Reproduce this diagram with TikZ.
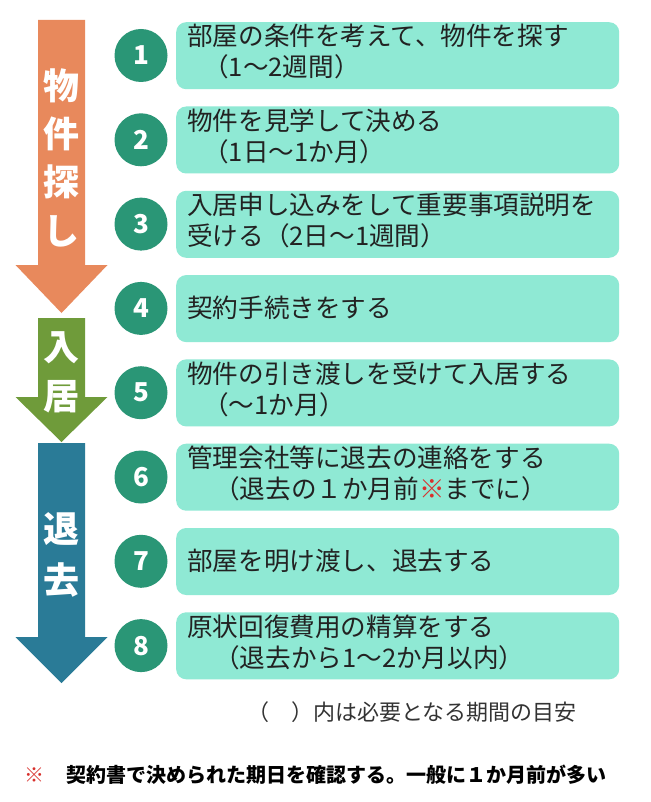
\documentclass[tikz,border=0pt]{standalone}
\usepackage{fontspec}
\setmainfont{Noto Sans CJK JP}
\definecolor{boxc}{HTML}{8FE9D4}
\definecolor{circc}{HTML}{2A9676}
\definecolor{orgc}{HTML}{E8895C}
\definecolor{grnc}{HTML}{6F9B3A}
\definecolor{bluc}{HTML}{2A7B97}
\definecolor{txtc}{HTML}{222222}
\definecolor{redc}{HTML}{D8302C}
\definecolor{grayc}{HTML}{333333}
\begin{document}
\begin{tikzpicture}[x=1pt,y=-1pt,
  stepbox/.style={fill=boxc, rounded corners=10pt, minimum width=443pt, minimum height=67pt, anchor=north west, inner sep=0pt},
  num/.style={circle, fill=circc, minimum size=53pt, inner sep=0pt, text=white, font=\fontsize{26}{26}\selectfont\bfseries},
  txt/.style={anchor=base west, inner sep=0pt, text=txtc, font=\fontsize{25.6}{25.6}\selectfont},
  alab/.style={anchor=base, inner sep=0pt, text=white, font=\fontsize{36}{36}\selectfont\bfseries},
  note/.style={anchor=base west, inner sep=0pt, font=\fontsize{20}{20}\selectfont\bfseries},
]
\useasboundingbox (0,0) rectangle (650,802);
\fill[white] (0,0) rectangle (650,802);

% stage arrows
\fill[orgc] (38,20) -- (85,20) -- (85,265) -- (107.5,265) -- (61.5,313) -- (15.5,265) -- (38,265) -- cycle;
\fill[grnc] (38,318) -- (85,318) -- (85,397) -- (107.5,397) -- (61.5,442) -- (15.5,397) -- (38,397) -- cycle;
\fill[bluc] (38,443) -- (85,443) -- (85,637) -- (107.5,637) -- (61.5,683) -- (15.5,637) -- (38,637) -- cycle;

\node[alab] (s1a) at (61.5,100) {物};
\node[alab] (s1b) at (61.5,148) {件};
\node[alab] (s1c) at (61.5,196) {探};
\node[alab] (s1d) at (61.5,244) {し};
\node[alab] (s2a) at (61.5,360) {入};
\node[alab] (s2b) at (61.5,409) {居};
\node[alab] (s3a) at (61.5,542) {退};
\node[alab] (s3b) at (61.5,593) {去};

% step boxes
\node[stepbox] (b1) at (176,22) {};
\node[stepbox] (b2) at (176,106.3) {};
\node[stepbox] (b3) at (176,190.6) {};
\node[stepbox] (b4) at (176,274.9) {};
\node[stepbox] (b5) at (176,359.2) {};
\node[stepbox] (b6) at (176,443.5) {};
\node[stepbox] (b7) at (176,527.8) {};
\node[stepbox] (b8) at (176,612.1) {};

% number circles
\node[num] (n1) at (141,55.5) {1};
\node[num] (n2) at (141,139.8) {2};
\node[num] (n3) at (141,224.1) {3};
\node[num] (n4) at (141,308.4) {4};
\node[num] (n5) at (141,392.7) {5};
\node[num] (n6) at (141,477) {6};
\node[num] (n7) at (141,561.3) {7};
\node[num] (n8) at (141,645.6) {8};

% texts
\node[txt] (t1a) at (187,46) {部屋の条件を考えて、物件を探す};
\node[txt] (t1b) at (203,77) {（1～2週間）};
\node[txt] (t2a) at (187,130.3) {物件を見学して決める};
\node[txt] (t2b) at (203,161.3) {（1日～1か月）};
\node[txt] (t3a) at (187,214.6) {入居申し込みをして重要事項説明を};
\node[txt] (t3b) at (187,245.6) {受ける（2日～1週間）};
\node[txt] (t4a) at (187,317.4) {契約手続きをする};
\node[txt] (t5a) at (187,383.2) {物件の引き渡しを受けて入居する};
\node[txt] (t5b) at (203,414.2) {（～1か月）};
\node[txt] (t6a) at (187,467.5) {管理会社等に退去の連絡をする};
\node[txt] (t6b) at (214,498.5) {（退去の１か月前{\color{redc}※}までに）};
\node[txt] (t7a) at (187,570.3) {部屋を明け渡し、退去する};
\node[txt] (t8a) at (187,636.1) {原状回復費用の精算をする};
\node[txt] (t8b) at (214,667.1) {（退去から1～2か月以内）};

% footers
\node[anchor=base west, inner sep=0pt, text=grayc, font=\fontsize{22}{22}\selectfont] (foot) at (247,720) {（　）内は必要となる期間の目安};
\node[note, text=redc] (mark) at (24,782) {※};
\node[note, text=black] (memo) at (66,782) {契約書で決められた期日を確認する。一般に１か月前が多い};
\end{tikzpicture}
\end{document}
